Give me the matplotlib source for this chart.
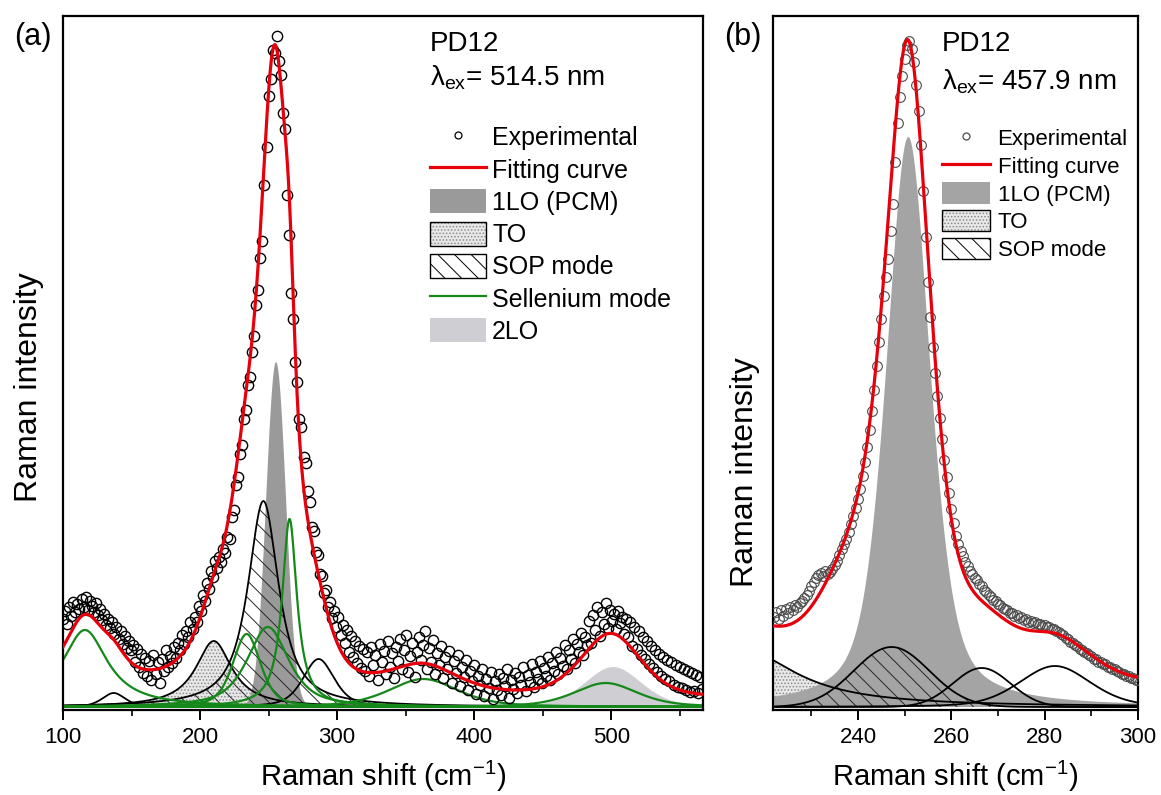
import numpy as np
import matplotlib
matplotlib.use("Agg")
import matplotlib.pyplot as plt
from matplotlib.lines import Line2D
from matplotlib.patches import Patch
from matplotlib.legend_handler import HandlerTuple
from matplotlib.ticker import MultipleLocator

plt.rcParams['font.family'] = ['Liberation Sans', 'DejaVu Sans']
plt.rcParams['mathtext.fontset'] = 'custom'
plt.rcParams['mathtext.rm'] = 'Liberation Sans'
plt.rcParams['mathtext.it'] = 'Liberation Sans:italic'
plt.rcParams['hatch.linewidth'] = 0.7

# ---------------- panel (a): 514.5 nm excitation ----------------
a_start, a_step = 100.0, 1.5
a_counts = [
    88, 96, 83, 100, 91, 105, 95, 103, 98, 108, 100, 110,
    97, 106, 101, 95, 104, 92, 98, 87, 93, 82, 88, 79,
    85, 73, 80, 68, 76, 63, 71, 59, 66, 57, 62, 45,
    58, 40, 53, 34, 49, 31, 46, 27, 52, 33, 45, 24,
    48, 36, 57, 40, 51, 44, 60, 49, 64, 57, 72, 63,
    76, 70, 85, 78, 90, 85, 101, 96, 112, 106, 124, 118,
    136, 130, 146, 139, 150, 145, 158, 154, 170, 168, 190, 197,
    222, 230, 253, 262, 288, 297, 322, 330, 355, 371, 402, 417,
    449, 466, 522, 560, 611, 628, 657, 654, 671, 646, 632, 594,
    578, 512, 472, 414, 388, 345, 325, 288, 280, 250, 244, 216,
    205, 180, 176, 155, 152, 133, 131, 114, 117, 100, 105, 89,
    96, 80, 90, 72, 82, 64, 77, 55, 71, 50, 66, 44,
    61, 39, 58, 36, 55, 31, 60, 42, 52, 27, 63, 45,
    56, 33, 66, 40, 54, 29, 60, 46, 68, 38, 57, 72,
    35, 51, 64, 30, 55, 70, 47, 62, 76, 38, 59, 45,
    67, 33, 54, 42, 61, 29, 50, 38, 56, 24, 46, 34,
    52, 21, 40, 30, 47, 17, 36, 26, 42, 13, 31, 22,
    38, 11, 28, 19, 35, 8, 26, 17, 33, 12, 29, 21,
    38, 9, 27, 18, 34, 14, 30, 22, 40, 16, 32, 25,
    43, 20, 35, 28, 46, 24, 39, 31, 50, 27, 44, 36,
    55, 33, 49, 41, 62, 38, 57, 48, 68, 44, 63, 55,
    74, 52, 70, 62, 86, 64, 92, 77, 100, 71, 95, 83,
    104, 79, 97, 86, 93, 78, 96, 84, 90, 73, 88, 70,
    85, 61, 80, 58, 76, 52, 70, 48, 66, 43, 61, 39,
    57, 35, 53, 31, 50, 28, 47, 26, 45, 22, 42, 20,
    40, 19, 38, 17, 36, 15, 34, 16, 32, 14, 30, 18,
]

# fitted bands: centre (cm-1), height, FWHM, Lorentzian fraction
a_se_centre = [116, 234, 249.5, 265.3, 363, 496]
a_se_height = [77, 73, 80, 188, 28, 24]
a_se_fwhm = [40, 24, 36, 13, 60, 55]
a_se_eta = [1.0, 0.5, 0.7, 1.0, 0.5, 0.5]

a_other_centre = [137, 286.5]
a_other_height = [14, 48]
a_other_fwhm = [20, 27]
a_other_eta = [0.5, 0.5]

a_lo = [255.5, 345, 17, 0.0]
a_to = [210, 66, 32, 1.0]
a_sop = [246.2, 206, 27, 0.9]
a_2lo = [501.5, 40, 49, 0.3]

# background bands and offset included in the fitting curve only
a_bg_centre = [230, 274]
a_bg_height = [45, 55]
a_bg_fwhm = [26, 21]
a_offset = 8

# ---------------- panel (b): 457.9 nm excitation ----------------
b_start, b_step = 222.0, 0.5
b_counts = [
    90, 95, 88, 97, 91, 98, 94, 100, 97, 102,
    100, 104, 106, 109, 112, 116, 121, 125, 129, 132,
    134, 131, 136, 133, 135, 138, 142, 146, 152, 158,
    163, 168, 175, 183, 191, 199, 208, 218, 231, 245,
    260, 277, 296, 317, 341, 365, 388, 411, 430, 448,
    476, 503, 545, 584, 610, 631, 648, 662, 666, 658,
    645, 622, 596, 562, 516, 470, 425, 390, 360, 334,
    311, 289, 268, 247, 230, 214, 198, 184, 171, 163,
    156, 151, 145, 141, 136, 133, 129, 127, 123, 121,
    117, 115, 112, 110, 107, 106, 103, 102, 99, 98,
    97, 94, 94, 91, 92, 89, 90, 87, 88, 85,
    86, 84, 85, 83, 83, 81, 82, 80, 80, 78,
    78, 76, 75, 73, 72, 69, 68, 65, 64, 62,
    61, 58, 57, 55, 54, 52, 51, 48, 48, 45,
    45, 43, 43, 40, 40, 38, 38, 36, 35, 33,
    33, 31, 31, 29, 29, 27, 27,
]

b_lo = [250.8, 570, 11.2, 0.5]
b_to = [215, 58, 28, 1.0]
b_sop = [247.2, 60, 19, 0.0]

b_other_centre = [266.5, 282.2]
b_other_height = [39, 41]
b_other_fwhm = [14.5, 18]
b_other_eta = [0.0, 0.3]

b_bg_centre = [238.5]
b_bg_height = [58]
b_bg_fwhm = [16.5]
b_offset = 20

RED = '#e6000c'
GREEN = '#15881a'
LO_GRAY = '#9a9a9a'
LO_GRAY_B = '#a4a4a4'
TWO_LO = '#cfcfd3'
TO_FACE = '#e8e8e8'
TO_DOT = '#8c8c8c'


def pvoigt(x, centre, height, fwhm, eta):
    u2 = ((x - centre) / (fwhm / 2.0)) ** 2
    return height * (eta / (1.0 + u2) + (1.0 - eta) * np.exp(-np.log(2.0) * u2))


def gauss(x, centre, height, fwhm):
    return pvoigt(x, centre, height, fwhm, 0.0)


fig = plt.figure(figsize=(11.61, 7.95), dpi=100)
W, H = 1161.0, 795.0
ax_a = fig.add_axes([63 / W, 1 - 710 / H, 640 / W, 694 / H])
ax_b = fig.add_axes([773 / W, 1 - 710 / H, 365 / W, 694 / H])

# ---------------- draw panel (a) ----------------
xa = np.linspace(100, 567, 1868)
to_a = pvoigt(xa, *a_to)
lo_a = pvoigt(xa, *a_lo)
sop_a = pvoigt(xa, *a_sop)
tlo_a = pvoigt(xa, *a_2lo)
se_a = [pvoigt(xa, c, h, w, e) for c, h, w, e in zip(a_se_centre, a_se_height, a_se_fwhm, a_se_eta)]
oth_a = [pvoigt(xa, c, h, w, e) for c, h, w, e in zip(a_other_centre, a_other_height, a_other_fwhm, a_other_eta)]
bg_a = sum(gauss(xa, c, h, w) for c, h, w in zip(a_bg_centre, a_bg_height, a_bg_fwhm))
fit_a = to_a + lo_a + sop_a + tlo_a + sum(se_a) + sum(oth_a) + bg_a + a_offset

ax_a.fill_between(xa, 0, to_a, facecolor=TO_FACE, edgecolor=TO_DOT, hatch='.....', linewidth=0, zorder=1)
ax_a.fill_between(xa, 0, lo_a, facecolor=LO_GRAY, edgecolor='none', linewidth=0, zorder=1.2)
ax_a.fill_between(xa, 0, tlo_a, facecolor=TWO_LO, edgecolor='none', linewidth=0, zorder=1.2)
ax_a.fill_between(xa, 0, sop_a, facecolor='none', edgecolor='#262626', hatch='\\\\', linewidth=0, zorder=1.4)
ax_a.plot(xa, to_a, color='black', lw=1.3, zorder=2)
ax_a.plot(xa, sop_a, color='black', lw=1.3, zorder=2)
for y in oth_a:
    ax_a.plot(xa, y, color='black', lw=1.3, zorder=2)
for y in se_a:
    ax_a.plot(xa, y, color=GREEN, lw=1.6, zorder=2.2)

xa_pts = a_start + a_step * np.arange(len(a_counts))
ax_a.plot(xa_pts, a_counts, ls='none', marker='o', ms=7.4, mfc='none', mec='black', mew=1.0, zorder=3)
ax_a.plot(xa, fit_a, color=RED, lw=2.3, zorder=4)

# ---------------- draw panel (b) ----------------
xb = np.linspace(221.8, 300, 1200)
to_b = pvoigt(xb, *b_to)
lo_b = pvoigt(xb, *b_lo)
sop_b = pvoigt(xb, *b_sop)
oth_b = [pvoigt(xb, c, h, w, e) for c, h, w, e in zip(b_other_centre, b_other_height, b_other_fwhm, b_other_eta)]
bg_b = sum(gauss(xb, c, h, w) for c, h, w in zip(b_bg_centre, b_bg_height, b_bg_fwhm))
fit_b = to_b + lo_b + sop_b + sum(oth_b) + bg_b + b_offset

ax_b.fill_between(xb, 0, to_b, facecolor=TO_FACE, edgecolor=TO_DOT, hatch='.....', linewidth=0, zorder=1)
ax_b.fill_between(xb, 0, lo_b, facecolor=LO_GRAY_B, edgecolor='none', linewidth=0, zorder=1.2)
ax_b.fill_between(xb, 0, sop_b, facecolor='none', edgecolor='#262626', hatch='\\\\', linewidth=0, zorder=1.4)
ax_b.plot(xb, to_b, color='black', lw=1.3, zorder=2)
ax_b.plot(xb, sop_b, color='black', lw=1.3, zorder=2)
for y in oth_b:
    ax_b.plot(xb, y, color='black', lw=1.3, zorder=2)

xb_pts = b_start + b_step * np.arange(len(b_counts))
ax_b.plot(xb_pts, b_counts, ls='none', marker='o', ms=7.0, mfc='none', mec='#4a4a4a', mew=0.8, zorder=3)
ax_b.plot(xb, fit_b, color=RED, lw=2.3, zorder=4)

# ---------------- axes styling ----------------
ax_a.set_xlim(100, 567)
ax_b.set_xlim(221.8, 300)
ax_a.xaxis.set_major_locator(MultipleLocator(100))
ax_a.xaxis.set_minor_locator(MultipleLocator(50))
ax_b.xaxis.set_major_locator(MultipleLocator(20))
ax_b.xaxis.set_minor_locator(MultipleLocator(10))

for ax in (ax_a, ax_b):
    ax.set_ylim(-3, 691)
    ax.set_yticks([])
    for s in ax.spines.values():
        s.set_linewidth(1.6)
    ax.tick_params(axis='x', which='major', direction='out', length=7, width=1.4,
                   labelsize=16, pad=5)
    ax.tick_params(axis='x', which='minor', direction='out', length=4, width=1.2)
    ax.set_xlabel(r'Raman shift (cm$\mathregular{^{-1}}$)', fontsize=21, labelpad=8)
    ax.set_ylabel('Raman intensity', fontsize=23)

ax_a.yaxis.set_label_coords(-0.03, 0.465)
ax_b.yaxis.set_label_coords(-0.036, 0.343)

fig.text(33 / W, 1 - 37 / H, '(a)', fontsize=22, ha='center', va='center')
fig.text(743 / W, 1 - 37 / H, '(b)', fontsize=22, ha='center', va='center')

ax_a.text(0.573, 0.96, 'PD12', transform=ax_a.transAxes, fontsize=20, ha='left', va='center')
ax_a.text(0.573, 0.911, r'$\mathregular{\lambda_{ex}}$= 514.5 nm', transform=ax_a.transAxes,
          fontsize=20, ha='left', va='center')
ax_b.text(0.463, 0.96, 'PD12', transform=ax_b.transAxes, fontsize=20, ha='left', va='center')
ax_b.text(0.463, 0.905, r'$\mathregular{\lambda_{ex}}$= 457.9 nm', transform=ax_b.transAxes,
          fontsize=20, ha='left', va='center')

# ---------------- legends ----------------
def legend_handles(mec):
    h_exp = Line2D([], [], ls='none', marker='o', ms=5, mfc='none', mec=mec, mew=0.9)
    h_fit = Line2D([], [], color=RED, lw=2.3)
    h_lo = Patch(facecolor=LO_GRAY, edgecolor='none')
    h_to = (Patch(facecolor=TO_FACE, edgecolor=TO_DOT, hatch='.....', lw=0),
            Patch(facecolor='none', edgecolor='black', lw=1.0))
    h_sop = Patch(facecolor='white', edgecolor='black', hatch='\\\\', lw=1.0)
    return h_exp, h_fit, h_lo, h_to, h_sop

h_exp, h_fit, h_lo, h_to, h_sop = legend_handles('black')
h_se = Line2D([], [], color=GREEN, lw=1.6)
h_2lo = Patch(facecolor=TWO_LO, edgecolor='none')
ax_a.legend([h_exp, h_fit, h_lo, h_to, h_sop, h_se, h_2lo],
            ['Experimental', 'Fitting curve', '1LO (PCM)', 'TO', 'SOP mode',
             'Sellenium mode', '2LO'],
            handler_map={tuple: HandlerTuple(ndivide=1, pad=0)},
            loc='upper left', bbox_to_anchor=(0.573, 0.843), frameon=False,
            fontsize=18, borderpad=0, borderaxespad=0, handlelength=2.25,
            handleheight=1.1, labelspacing=0.27, handletextpad=0.25)

h_exp, h_fit, h_lo, h_to, h_sop = legend_handles('#4a4a4a')
h_lo = Patch(facecolor=LO_GRAY_B, edgecolor='none')
ax_b.legend([h_exp, h_fit, h_lo, h_to, h_sop],
            ['Experimental', 'Fitting curve', '1LO (PCM)', 'TO', 'SOP mode'],
            handler_map={tuple: HandlerTuple(ndivide=1, pad=0)},
            loc='upper left', bbox_to_anchor=(0.463, 0.840), frameon=False,
            fontsize=16, borderpad=0, borderaxespad=0, handlelength=2.15,
            handleheight=1.1, labelspacing=0.2, handletextpad=0.35)

fig.savefig('out.png', dpi=100)
